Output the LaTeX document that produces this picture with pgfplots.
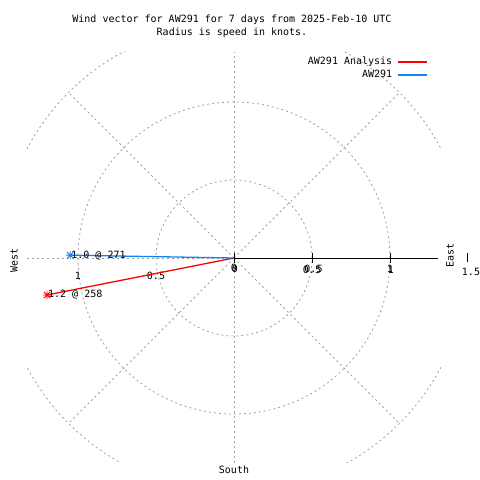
\documentclass[border=0pt]{standalone}
\usepackage{fontspec}
\setmainfont{DejaVu Sans Mono}
\usepackage{pgfplots}
\pgfplotsset{compat=1.18}
\definecolor{vblue}{RGB}{20,130,240}
\definecolor{vred}{RGB}{255,0,0}
\definecolor{ggrid}{RGB}{160,160,160}
\pgfdeclareplotmark{gstar}{%
  \pgfpathmoveto{\pgfqpoint{-\pgfplotmarksize}{0pt}}\pgfpathlineto{\pgfqpoint{\pgfplotmarksize}{0pt}}%
  \pgfpathmoveto{\pgfqpoint{0pt}{-\pgfplotmarksize}}\pgfpathlineto{\pgfqpoint{0pt}{\pgfplotmarksize}}%
  \pgfpathmoveto{\pgfqpoint{-.8\pgfplotmarksize}{-.8\pgfplotmarksize}}\pgfpathlineto{\pgfqpoint{.8\pgfplotmarksize}{.8\pgfplotmarksize}}%
  \pgfpathmoveto{\pgfqpoint{-.8\pgfplotmarksize}{.8\pgfplotmarksize}}\pgfpathlineto{\pgfqpoint{.8\pgfplotmarksize}{-.8\pgfplotmarksize}}%
  \pgfusepathqstroke}
\begin{document}
\begin{tikzpicture}[x=1pt,y=1pt,font=\fontsize{10}{13}\selectfont]
\useasboundingbox (0,0) rectangle (480,480);
\begin{axis}[
  at={(234pt,222pt)}, anchor=origin,
  scale only axis, width=411.84pt, height=411.84pt,
  xmin=-1.32, xmax=1.32, ymin=-1.32, ymax=1.32,
  axis lines=none, clip=false,
  legend plot pos=right, legend cell align=right,
  legend image code/.code={\draw[#1] (0pt,0pt) -- (29pt,0pt);},
  legend style={draw=none, fill=none, at={(axis cs:1.245,1.30)}, anchor=north east,
    inner sep=0pt, row sep=0pt, column sep=4pt,
    nodes={inner sep=1.5pt, text height=7.5pt, text depth=2.5pt},
    font=\fontsize{10}{13}\selectfont},
]
% grid
\begin{scope}
\clip (axis cs:-1.327,-1.314) rectangle (axis cs:1.327,1.321);
\begin{scope}[ggrid, line width=0.8pt, dash pattern=on 2pt off 3pt]
\draw (axis cs:0,0) circle[radius=0.5];
\draw (axis cs:0,0) circle[radius=1];
\draw (axis cs:0,0) circle[radius=1.5];
\draw (axis cs:0,0) -- (axis cs:1.0607,1.0607);
\draw (axis cs:0,0) -- (axis cs:-1.0607,1.0607);
\draw (axis cs:0,0) -- (axis cs:-1.0607,-1.0607);
\draw (axis cs:0,0) -- (axis cs:1.0607,-1.0607);
\draw (axis cs:0,-1.314) -- (axis cs:0,1.321);
\draw (axis cs:-1.327,0) -- (axis cs:0,0);
\end{scope}
\end{scope}
\draw[black, line width=0.9pt] (axis cs:0,0) -- (axis cs:1.31,0);
\draw[black, line width=0.9pt] (axis cs:0,0) ++(0pt,5pt) -- ++(0pt,-10pt);
\draw[black, line width=0.9pt] (axis cs:0.5,0) ++(0pt,5pt) -- ++(0pt,-10pt);
\draw[black, line width=0.9pt] (axis cs:1,0) ++(0pt,5pt) -- ++(0pt,-10pt);
\draw[black, line width=0.9pt] (axis cs:1.494,0) ++(0pt,5pt) -- ++(0pt,-9pt);
% tick labels
\node at (axis cs:0,0) [yshift=-10pt] {0};
\node at (axis cs:0,0) [yshift=-11pt, xshift=1pt] {0};
\node at (axis cs:0.5,0) [yshift=-12pt] {0.5};
\node at (axis cs:0.5,0) [yshift=-11pt, xshift=1.5pt] {0.5};
\node at (axis cs:1,0) [yshift=-11pt] {1};
\node at (axis cs:1,0) [yshift=-12pt, xshift=1pt] {1};
\node at (axis cs:1.5,0) [yshift=-14pt, xshift=3pt] {1.5};
\node at (axis cs:-0.5,0) [yshift=-18pt] {0.5};
\node at (axis cs:-1,0) [yshift=-18pt] {1};
% direction labels
\node[rotate=90] at (axis cs:1.385,0.019) {East};
\node[rotate=90] at (axis cs:-1.41,-0.013) {West};
\node at (axis cs:0,-1.359) {South};
% title
\node at (axis cs:-0.013,1.526) {Wind vector for AW291 for 7 days from 2025-Feb-10 UTC};
\node at (axis cs:-0.013,1.442) {Radius is speed in knots.};
% data
\addplot[vred, line width=1.3pt] coordinates {(0,0) (-1.199,-0.237)};
\addlegendentry{AW291 Analysis}
\addplot[vblue, line width=1.3pt] coordinates {(0,0) (-1.05,0.018)};
\addlegendentry{AW291}
\addplot[forget plot, only marks, vred, mark=gstar, mark size=4pt, mark options={line width=0.9pt}]
  coordinates {(-1.199,-0.237)};
\addplot[forget plot, only marks, vblue, mark=gstar, mark size=4pt, mark options={line width=0.9pt}]
  coordinates {(-1.05,0.018)};
\node[anchor=west, inner sep=0pt, xshift=1pt] at (axis cs:-1.199,-0.237) {1.2 @ 258};
\node[anchor=west, inner sep=0pt, xshift=1pt] at (axis cs:-1.05,0.018) {1.0 @ 271};
\end{axis}
\end{tikzpicture}
\end{document}
